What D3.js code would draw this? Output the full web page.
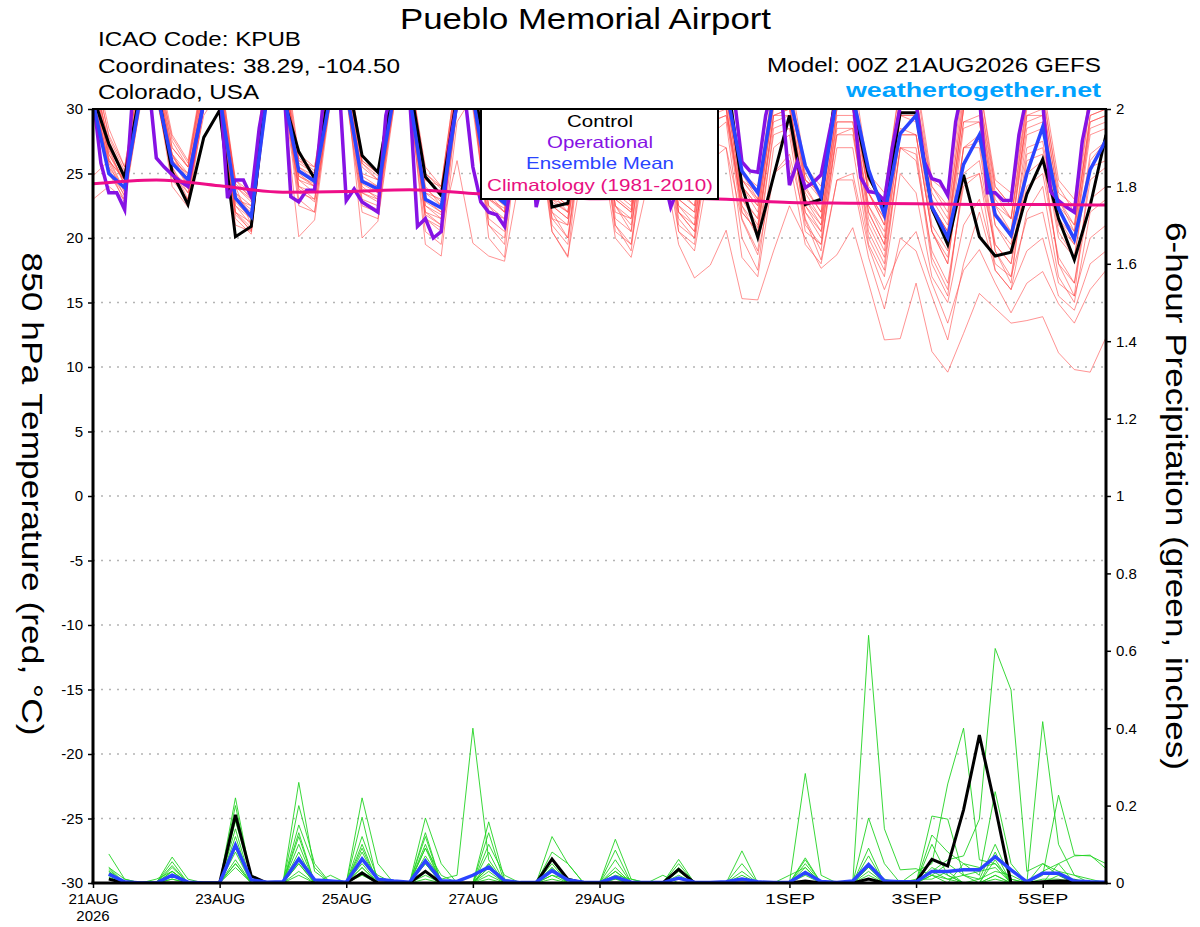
<!DOCTYPE html>
<html>
<head>
<meta charset="utf-8">
<script src="https://cdn.jsdelivr.net/npm/d3@7"></script>
<style>
  body { margin: 0; background: #fff; }
  text { font-family: "Liberation Sans", Arial, sans-serif; }
</style>
</head>
<body>
<div id="chart"></div>
<script>
// run start and time steps
var runStart = Date.UTC(2026, 7, 21, 0);
var HOUR = 3600 * 1000;

// bottom axis ticks
var dateTicks = ['2026-08-21', '2026-08-23', '2026-08-25', '2026-08-27', '2026-08-29',
                 '2026-09-01', '2026-09-03', '2026-09-05'];
var tempTicks = [-30, -25, -20, -15, -10, -5, 0, 5, 10, 15, 20, 25, 30];
var precipTicks = [0, 0.2, 0.4, 0.6, 0.8, 1, 1.2, 1.4, 1.6, 1.8, 2];

// 850 hPa temperature, 6-hourly (00Z 21AUG .. 00Z 6SEP)
var controlTemp = [
  31, 27.3, 24.7, 31.5,  32, 25.1, 22.6, 27.8,  29.9, 20.1, 20.9, 32,  31, 26.7, 24.6, 32,
  33, 26.4, 25.1, 32,  32, 24.75, 23.3, 31,  32, 25.5, 24.5, 31,  32, 22.4, 22.7, 30.5,
  32, 25, 24, 31,  32, 25.5, 24.5, 31,  33, 24.0, 20.05, 24.8,  29.5, 22.6, 23.0, 32,
  30.5, 24.8, 22.3, 29.7,  29.7, 22.3, 19.5, 24.9,  20.1, 18.6, 18.9, 23.4,  26.1, 21.5, 18.3, 22.5,
  28
];
var meanTemp = [
  30.5, 25.0, 23.9, 31,  31.5, 25.8, 24.5, 30.5,  31, 23.1, 21.65, 31,  31.5, 25.2, 24.4, 31,
  31.5, 24.4, 23.8, 31,  31, 23.0, 22.35, 30.5,  31, 23.7, 22.7, 30.5,  31, 24.0, 23.5, 30.5,
  31, 24.5, 23.8, 30.5,  31, 24.8, 24.0, 30.5,  31.5, 25.2, 23.5, 31,  31, 25.6, 23.2, 31,
  31, 25.3, 21.8, 28.1,  29.5, 22.4, 20.05, 25.7,  28.0, 21.8, 20.2, 25.0,  28.6, 22.3, 19.9, 25.3,
  27.6
];
// operational run, 3-hourly
var operTemp = [
  31, 25.8, 23.5, 23.5, 22.2, 31, 33, 32.3,
  26.2, 25.5, 24.9, 24.4, 24.0, 27.5, 30.5, 33,
  32, 23.1, 24.5, 24.5, 23.2, 28.5, 32, 33,
  33, 23.2, 22.8, 23.7, 23.7, 30, 32, 33,
  22.9, 23.8, 22.8, 22.4, 22.0, 29.5, 32, 33,
  31, 20.9, 21.5, 20.0, 20.5, 27, 30.5, 31,
  25.5, 22.8, 22.0, 21.8, 20.9, 25, 30, 31,
  22.4, 25, 26, 24.5, 24, 28, 31, 32,
  31, 24.5, 24, 23.8, 23.5, 28, 31, 32,
  25, 22.4, 24, 24.5, 24, 28, 31, 32,
  32, 31, 25.9, 25.2, 25.1, 29.5, 32, 31,
  24.1, 25.9, 23.9, 24.3, 24.9, 28, 31, 32,
  31, 24.7, 23.6, 23.5, 22.9, 27, 30.2, 32,
  30.5, 26, 24.6, 24.4, 23.3, 29, 32, 33,
  31, 23.5, 23.5, 22.9, 22.9, 28, 31, 32,
  30.5, 23.6, 22.9, 22.4, 22.0, 27.5, 30.5, 32,
  33
];
// climatology, daily at 00Z
var climTemp = [24.2, 24.5, 24.05, 23.55, 23.6, 23.75, 23.45, 23.2, 23.05, 23.1,
                23.0, 22.75, 22.7, 22.65, 22.6, 22.6, 22.55];

// ensemble members, 6-hourly
var member01 = [32,25.5,23.8,31, 33,25.0,24.2,30.5, 31,22.5,21.5,31.5, 32,24.0,23.5,31, 32,23.5,22.8,30, 31,21.5,20.8,26, 19.6,18.6,18.2,25, 29,20.5,18.6,26, 28,20.0,18.5,24, 26,19.5,16.9,17.9, 20.6,15.3,15.2,19.0, 22.5,20.0,17.65,18.7, 20.8,16.5,12.1,12.2, 16.5,11.2,9.6,12.6, 15.7,14.55,13.4,13.6, 13.9,11.1,9.8,9.6, 12.3];
var member02 = [33,26.5,24.5,32, 32,26.0,25.0,31, 30.5,23.5,22.5,32, 33,25.5,24.8,31.5, 32,24.5,23.5,30.5, 31,22.0,21.0,30, 30.5,22.5,21.0,29, 30,21.5,20.0,28, 29,21.0,19.5,27, 27.5,20.5,19.0,26, 27,21.4,18.7,25, 26.5,21.4,18.3,24.5, 25,19.3,16.0,19.0, 20.5,16.5,13.4,17.5, 19.1,16.5,14.2,16.5, 17.4,14.9,13.4,16, 17.5];
var member03 = [31.5,27.0,24.0,31, 32.5,26.5,24.0,31.5, 32,24.0,21.0,33, 33,26.0,25.0,32, 33,25.5,24.5,31, 32,24.0,22.5,31, 32,23.5,22.0,30, 31,22.5,21.5,30, 30.5,22.5,21.0,29, 29.5,22.0,20.5,27.5, 27.0,18.5,17.0,25, 26.0,19.5,18.0,24.5, 24.5,18.5,14.5,20, 19.0,15.5,12.1,18, 22,17.5,16.0,19, 20,15.5,14.4,18, 19];
var member04 = [33,26.0,24.5,31.5, 31,25.5,23.5,29.5, 31.5,21.5,20.3,31, 31,20.1,21.4,30.5, 32,20.0,21.3,30, 31,19.5,18.6,29, 31,20.0,18.5,30, 30.5,20.5,18.5,29.5, 31,21.0,19.0,29, 30,20.5,19.5,28, 29,20.0,17.5,27, 28,20.5,19.5,27, 27,19.5,17.0,25, 23.5,17.0,15.0,21, 23,18.0,17.0,21.5, 22,16.5,15.5,20, 21];
var member05 = [34,28.5,25.5,33, 34,28.0,26.0,33, 33,24.5,23.5,34, 35,26.5,25.5,33, 34,26.5,25.0,33, 33,25.5,24.0,33, 33,25.0,24.0,32, 33,24.5,23.5,32, 33,25.0,24.0,32, 33,25.0,24.0,32, 33,25.0,24.0,32, 33,25.5,24.0,32, 33,25.0,23.5,32, 32.5,24.5,23.5,32, 32,24.5,23.5,31.5, 32,24.5,23.0,31.5, 32];
var member06 = [30.5,25.5,22.7,30.5, 31.5,24.0,22.4,30, 30,22.0,20.5,32, 32,23.0,22.0,31, 31,22.5,22.0,31, 30.5,20.5,19.5,30, 30,21.0,19.5,30.5, 31,22.0,20.0,30, 30.5,22.5,20.5,30, 30.5,21.0,20.0,29, 29.5,22.5,20.0,28, 28.5,22.0,20.5,28, 28.0,21.0,18.5,27, 26.0,19.0,16.5,24, 25,19.5,18.0,24, 25,18.5,16.5,23, 24];
var member07 = [32.5,27.5,25.0,32, 33,27.0,25.5,32, 32,23.0,22.0,32.5, 34,25.0,24.0,32, 33,25.0,24.5,32, 32,23.5,23.0,31.5, 32,24.0,23.0,31.5, 32,23.0,22.5,31, 32,24.0,23.0,31, 31.5,24.0,23.0,31, 31.5,24.0,22.5,31, 31.5,24.5,23.0,31, 31,23.5,21.5,30.5, 30.5,23.0,21.0,30, 30.5,23.0,21.5,30, 30.5,23.0,20.5,29.5, 30];
var member08 = [31,26.0,23.5,30.8, 32,25.5,23.0,31, 31,22.5,21.0,31, 32.5,24.5,23.5,31.5, 32,23.0,22.5,31, 31.5,22.5,21.5,31, 31,22.0,21.5,30.5, 31,21.5,21.0,30.5, 31,22.0,21.5,30, 30.5,22.5,21.0,30, 30,23.0,21.0,29.5, 30,23.0,21.0,29, 29,22.0,19.5,28, 28,20.5,18.5,27, 28,21.0,19.5,27, 27.5,20.5,18.5,26.5, 27.5];
var member09 = [33.5,27.0,24.8,32.5, 31.5,26.5,24.5,30, 30.5,23.0,22.5,31, 31.5,24.0,23.0,30.5, 31.5,24.0,23.0,30.5, 30.5,23.0,22.0,30.5, 31,23.0,22.0,31, 31.5,23.5,22.0,31, 31.5,23.0,22.0,31, 31,23.0,22.0,30.5, 31,24.0,22.5,30, 30.5,23.5,21.5,30, 30,23.5,21.0,29.5, 29.5,22.5,20.5,29, 29.5,22.5,21.5,29, 29.5,22.5,21.0,29, 29.5];
var member10 = [32,26.8,24.2,31.2, 32.5,26.0,24.0,31, 31.5,23.5,21.8,32, 33,25.5,24.5,32, 32.5,24.5,24.0,31.5, 32,23.5,22.5,31.5, 32,24.0,23.0,31.5, 31.5,24.0,23.0,31, 31.5,24.5,23.5,31, 31.5,24.5,23.5,31, 31.5,25.0,23.0,31, 31.5,25.0,23.0,31, 31,24.5,22.5,31, 31,24.0,22.0,30.5, 31,24.0,22.5,30.5, 31,24.0,22.0,30.5, 31];
var member11 = [31.8,25.0,23.0,31.5, 33.5,27.5,25.5,32.5, 32.5,24.0,22.8,33, 33.5,25.8,25.0,32.5, 33,25.8,24.5,32, 32.5,24.5,23.5,32, 32.5,24.5,23.5,31.5, 32,23.5,22.5,31.5, 32.5,23.5,22.5,31, 31,22.0,21.0,30, 30.5,22.0,20.5,29, 29.5,21.0,19.5,28, 28.5,20.5,18.0,27, 27,18.5,16.0,24.5, 25,17.5,16.0,22, 24,17.0,15.0,22, 23];
var member12 = [23.0,24.0,23.0,31, 31,25.0,23.5,30.5, 31,21.0,20.5,31, 31.5,22.5,22.0,31, 31,22.0,21.5,30.5, 30.5,21.5,20.5,30, 30.5,21.0,20.0,30.5, 30.5,21.0,19.5,30, 30,20.5,19.5,29.5, 30,21.5,20.0,29, 29.5,21.5,19.0,28.5, 29,21.5,19.0,28.5, 28.5,20.0,17.5,27, 26.5,18.0,15.5,25, 26,19.0,17.0,25, 26,18.0,16.5,24.5, 25.5];
var member13 = [24.8,26.0,24.5,32, 33,26.5,25.0,32, 32,24.5,23.0,33, 32,24.5,24.0,31, 33.5,26.0,25.0,32.5, 33,25.0,24.0,32, 33,25.0,23.5,32, 32.5,24.5,23.0,32, 32.5,24.5,24.0,32, 32,25.0,24.0,31.5, 32,24.5,23.0,31.5, 32,24.5,23.5,31.5, 31.5,24.0,22.5,31, 31,23.5,21.5,31, 31,23.5,21.5,30.5, 30.5,23.0,21.0,30.5, 31];
var member14 = [32,26.2,23.6,31.6, 32,24.5,23.0,30.5, 31,22.0,20.8,31.5, 32,23.5,23.0,31, 32,23.5,23.0,31, 31.5,22.0,21.5,30.5, 31.5,22.5,21.5,31, 31.5,22.5,21.5,31, 31,23.0,22.0,30.5, 31,23.5,22.5,30.5, 31,23.0,21.5,30.5, 30.5,22.5,21.0,30, 30,22.0,19.5,29.5, 29,21.0,19.0,28.5, 29,21.0,19.0,28, 28.5,21.0,19.5,28, 28.5];
var member15 = [34,27.8,25.2,33, 33.5,27.0,25.5,33, 33.5,24.0,23.0,34, 34,26.0,25.5,33, 34,26.0,25.0,33, 33,24.5,24.0,33, 33,24.5,24.0,33, 33,24.5,23.5,33, 33,24.5,23.5,32.5, 32.5,24.5,23.5,32, 32.5,24.5,23.5,32, 32.5,24.5,23.5,32, 32,24.5,23.0,32, 32,24.0,22.5,31.5, 32,24.0,22.5,31.5, 31.5,23.5,22.5,31.5, 32];
var member16 = [31,25.8,23.2,30.6, 32,25.2,23.8,31, 31.5,22.0,21.2,32, 32.5,24.8,24.2,31, 32.5,23.8,23.2,31.5, 31.5,22.8,22.0,31, 31.5,23.0,22.3,31, 31.5,22.8,22.0,31, 31.5,22.5,21.5,30.5, 30.5,22.5,21.5,30, 30,22.5,20.8,29.5, 29.5,22.0,20.0,29, 29,21.5,19.0,28, 28,20.5,18.0,27, 27.5,19.5,18.0,26.5, 27,20.0,18.5,26, 27.5];
var member17 = [32.8,27.3,24.5,32, 32.8,26.3,24.8,31.8, 32,23.2,22.2,32.5, 33,25.2,24.6,32, 33,24.8,24.0,32, 32.5,23.8,22.8,32, 32.5,23.5,22.5,32, 32,23.5,22.5,31.5, 32,23.8,22.8,31.5, 31.8,23.8,22.5,31, 31.5,24.0,22.0,31, 31.5,23.8,22.0,31, 31,23.5,21.5,30.5, 30.5,22.5,20.5,30, 30.5,22.5,20.5,29.5, 30,22.0,20.5,29.5, 30];
var member18 = [30.8,25.2,23.3,30.2, 31,24.8,22.8,30.2, 30.5,21.8,20.6,30.5, 31.5,23.8,22.8,30.5, 31.5,22.8,22.2,30.5, 31,21.8,21.0,30.5, 30.5,21.5,20.5,30, 30.5,22.0,21.0,30, 30.5,21.5,20.5,30, 30,22.0,20.5,29.5, 30,22.0,20.5,29.5, 30,22.5,20.5,29.5, 29.5,22.5,20.0,28.5, 28,20.5,18.0,27, 27,19.0,16.5,26, 26.5,18.0,15.5,25.5, 26];
var member19 = [33.2,28.0,25.5,32.8, 33.2,27.8,25.8,32.5, 32.5,24.2,23.2,33.5, 34.5,26.2,25.2,33, 33.5,25.8,24.8,33, 33,25.0,23.8,32.5, 33,24.8,23.8,32.5, 32.5,24.0,23.0,32.5, 32.5,24.8,23.8,32, 32.5,24.5,23.2,32, 32,24.5,22.8,31.5, 31.5,24.0,22.0,31, 31,23.5,21.0,30.5, 30.5,22.5,20.5,30, 30,22.0,20.0,29.5, 29.5,21.5,19.5,29, 29.5];
var member20 = [31.5,26.5,24.2,31, 32,26.0,24.5,31.5, 31.5,22.8,21.5,32, 32.5,24.8,24.0,31.5, 32.5,24.2,23.5,31.5, 32,22.5,21.8,31.5, 32,23.2,22.0,31.5, 31.5,23.0,22.0,31, 31.5,23.2,22.2,31, 31,23.0,22.0,30.5, 31,23.2,21.5,30.5, 30.5,23.0,21.5,30, 30,22.5,20.5,29.5, 29.5,22.0,20.0,29, 29,22.0,20.5,28.5, 29,21.5,20.0,28.5, 29];
var memberTemps = [member01, member02, member03, member04, member05, member06, member07, member08, member09, member10,
                   member11, member12, member13, member14, member15, member16, member17, member18, member19, member20];

// 6-hour precipitation (inches), steps 06Z 21AUG .. 00Z 6SEP
var controlPrecip = [
  0.01,0,0,0,0,0,0,0,  0.176,0.018,0,0,0,0,0,0,  0.026,0,0,0,0.03,0,0,0,  0,0,0,0,0.062,0.01,0,0,
  0,0,0,0,0.035,0,0,0,  0,0,0,0,0.005,0,0,0,  0.01,0,0,0.003,0.061,0.044,0.189,0.382,  0.197,0,0,0.003,0.005,0.005,0,0
];
var meanPrecip = [
  0.023,0.003,0,0,0.02,0.002,0,0,  0.098,0.008,0.002,0.003,0.062,0.008,0.005,0.002,
  0.062,0.01,0.005,0.002,0.057,0.006,0.004,0.02,  0.041,0.006,0.001,0.002,0.032,0.008,0.002,0.001,
  0.015,0.002,0.001,0.001,0.013,0.002,0.001,0.003,  0.01,0.003,0.001,0.002,0.027,0.004,0.001,0.005,
  0.048,0.005,0.003,0.003,0.03,0.03,0.034,0.034,  0.068,0.034,0.003,0.025,0.025,0.005,0.003,0.002
];
var precip01 = [0.04,0,0,0,0.03,0,0,0, 0.22,0.01,0,0,0.05,0,0,0, 0.08,0,0,0,0.03,0,0,0, 0.04,0,0,0,0,0,0,0, 0,0,0,0,0.02,0,0,0, 0,0,0,0,0.06,0,0,0, 0.64,0.14,0.034,0.037,0.02,0,0,0, 0.08,0,0,0,0,0,0,0];
var precip02 = [0.075,0.01,0,0,0,0,0,0, 0.05,0,0,0,0.1,0,0,0, 0.04,0,0,0,0.07,0.01,0.02,0.40, 0.06,0,0,0,0.04,0,0,0, 0.03,0,0,0,0,0,0,0, 0.03,0,0,0,0,0,0,0, 0.05,0,0,0,0.03,0.06,0.07,0.165, 0.606,0.499,0.03,0.05,0.02,0,0,0];
var precip03 = [0.03,0,0,0,0.067,0.01,0,0, 0.16,0.02,0,0,0.26,0.03,0,0, 0.12,0.01,0,0,0.09,0,0,0, 0.1,0.02,0,0,0.06,0,0,0, 0.113,0.01,0,0,0.04,0,0,0, 0.02,0,0,0,0.283,0.02,0,0, 0.05,0.01,0,0.03,0.05,0.256,0.40,0.06, 0.05,0.01,0,0.05,0.03,0.02,0,0];
var precip04 = [0.02,0,0,0,0.055,0,0,0, 0.2,0.01,0,0,0.2,0.05,0,0, 0.22,0.05,0,0,0.168,0.05,0,0, 0.158,0.01,0,0,0.12,0.05,0,0, 0.085,0,0,0,0.061,0,0,0, 0.083,0,0,0,0.04,0,0,0, 0.09,0,0,0,0.124,0.08,0.05,0.02, 0.236,0.05,0,0.417,0.1,0.02,0.01,0];
var precip05 = [0.035,0,0,0,0.045,0,0,0, 0.14,0,0,0,0.15,0.04,0,0, 0.17,0,0,0,0.13,0,0,0, 0.13,0,0,0,0.08,0.05,0,0, 0.06,0,0,0,0.05,0,0,0, 0.05,0,0,0,0.065,0,0,0, 0.168,0.05,0,0,0.173,0.165,0.02,0.01, 0.1,0.01,0,0.02,0.227,0.072,0.07,0.05];
var precip06 = [0.015,0,0,0,0.04,0,0,0, 0.12,0,0,0,0.13,0,0,0, 0.1,0,0,0,0.12,0,0,0, 0.08,0,0,0,0.05,0,0,0, 0.04,0,0,0,0,0,0,0, 0,0,0,0,0.05,0,0,0, 0.07,0,0,0,0.1,0.02,0,0, 0.06,0,0,0.03,0.05,0.07,0.072,0.037];
var precip07 = [0.02,0,0,0,0.03,0,0,0, 0.1,0,0,0,0.12,0,0.02,0, 0.09,0,0,0,0.1,0,0,0, 0.05,0,0,0,0.03,0,0,0, 0.02,0.01,0,0,0.03,0,0,0, 0.01,0,0,0.02,0.04,0,0,0, 0.05,0,0,0,0.03,0.01,0.02,0.03, 0.04,0,0,0.01,0.01,0,0,0];
var precip08 = [0.01,0,0,0,0.02,0,0,0, 0.09,0,0,0,0.08,0,0,0, 0.06,0.02,0,0,0.05,0,0,0, 0.04,0,0,0,0.02,0.01,0,0, 0.01,0,0,0,0,0,0,0, 0,0,0,0,0.02,0,0,0, 0.03,0,0,0.01,0.01,0.03,0,0.01, 0.03,0.02,0,0,0,0,0,0];
var precip09 = [0.03,0,0,0.01,0.03,0,0,0, 0.08,0,0,0,0.06,0,0,0, 0.05,0,0,0,0.09,0.02,0,0, 0.05,0,0,0,0.04,0,0,0, 0.03,0,0,0,0,0,0,0, 0,0,0,0,0.03,0,0,0, 0.04,0,0,0,0,0,0.05,0.04, 0.05,0,0,0,0.05,0,0,0];
var precip10 = [0.025,0,0,0,0.02,0,0,0, 0.06,0,0,0,0.05,0,0,0, 0.04,0,0,0,0.05,0,0,0, 0.03,0,0,0,0.02,0,0,0, 0,0,0,0,0,0,0,0, 0,0,0,0,0,0,0,0, 0.02,0,0,0,0.02,0.01,0,0, 0.02,0,0,0,0,0,0,0];
var precip11 = [0.02,0,0,0,0.01,0,0,0, 0.05,0,0,0,0.03,0,0,0, 0.03,0,0,0,0.02,0,0,0, 0.02,0,0,0,0.01,0,0,0, 0,0,0,0.02,0,0,0,0, 0,0,0,0,0,0,0,0, 0.01,0,0,0,0.04,0.02,0,0, 0.01,0,0,0,0.02,0,0,0];
var precip12 = [0.04,0.01,0,0,0.01,0,0,0, 0.04,0,0,0,0.02,0,0,0, 0.02,0,0,0,0.01,0,0,0, 0.01,0,0,0,0,0,0,0, 0.01,0,0,0,0,0,0,0, 0,0,0,0,0,0,0,0, 0.01,0,0,0,0.02,0.05,0.02,0, 0.02,0,0,0,0,0.01,0,0];
var memberPrecips = [precip01, precip02, precip03, precip04, precip05, precip06,
                     precip07, precip08, precip09, precip10, precip11, precip12];

var legendItems = ['Control', 'Operational', 'Ensemble Mean', 'Climatology (1981-2010)'];

// ---- drawing ----
var W = 1200, H = 927;
var plotL = 93, plotR = 1106, plotT = 109, plotB = 883;

var svg = d3.select('#chart').append('svg')
    .attr('width', W)
    .attr('height', H);

svg.append('rect').attr('width', W).attr('height', H).attr('fill', '#fff');

var parseDay = d3.utcParse('%Y-%m-%d');
var x = d3.scaleUtc()
    .domain([new Date(runStart), new Date(runStart + 384 * HOUR)])
    .range([plotL, plotR]);
var yT = d3.scaleLinear().domain([-30, 30]).range([plotB, plotT]);
var yP = d3.scaleLinear().domain([0, 2]).range([plotB, plotT]);

svg.append('clipPath').attr('id', 'plot-clip')
  .append('rect')
    .attr('x', plotL).attr('y', plotT)
    .attr('width', plotR - plotL).attr('height', plotB - plotT);

// dotted grid on the temperature ticks
svg.append('g')
  .selectAll('line')
  .data(tempTicks.filter(function(t) { return t > -30 && t < 30; }))
  .enter().append('line')
    .attr('x1', plotL).attr('x2', plotR)
    .attr('y1', function(d) { return yT(d); })
    .attr('y2', function(d) { return yT(d); })
    .attr('stroke', '#b4b4b4')
    .attr('stroke-width', 1.5)
    .attr('stroke-dasharray', '2,6');

var plot = svg.append('g').attr('clip-path', 'url(#plot-clip)');

function lineOf(stepH, offset, yScale) {
  return d3.line()
    .x(function(d, i) { return x(new Date(runStart + (i + offset) * stepH * HOUR)); })
    .y(function(d) { return yScale(d); });
}
var temp6 = lineOf(6, 0, yT);
var temp3 = lineOf(3, 0, yT);
var tempDaily = lineOf(24, 0, yT).curve(d3.curveMonotoneX);
var precip6 = lineOf(6, 1, yP);

plot.selectAll('.member')
  .data(memberTemps)
  .enter().append('path')
    .attr('class', 'member')
    .attr('d', temp6)
    .attr('fill', 'none')
    .attr('stroke', '#ff4646')
    .attr('stroke-opacity', 0.78)
    .attr('stroke-width', 0.75);

plot.selectAll('.pmember')
  .data(memberPrecips)
  .enter().append('path')
    .attr('class', 'pmember')
    .attr('d', precip6)
    .attr('fill', 'none')
    .attr('stroke', '#22d422')
    .attr('stroke-width', 0.9);

plot.append('path').attr('d', temp6(controlTemp))
    .attr('fill', 'none').attr('stroke', '#000').attr('stroke-width', 3);
plot.append('path').attr('d', precip6(controlPrecip))
    .attr('fill', 'none').attr('stroke', '#000').attr('stroke-width', 3);
plot.append('path').attr('d', temp3(operTemp))
    .attr('fill', 'none').attr('stroke', '#8612e4').attr('stroke-width', 3.5);
plot.append('path').attr('d', temp6(meanTemp))
    .attr('fill', 'none').attr('stroke', '#2a44ff').attr('stroke-width', 3.5);
plot.append('path').attr('d', precip6(meanPrecip))
    .attr('fill', 'none').attr('stroke', '#2a44ff').attr('stroke-width', 3.5);
plot.append('path').attr('d', tempDaily(climTemp))
    .attr('fill', 'none').attr('stroke', '#ee0e88').attr('stroke-width', 3);

// legend box
var legend = svg.append('g');
legend.append('rect')
    .attr('x', 481).attr('y', plotT)
    .attr('width', 237).attr('height', 90)
    .attr('fill', '#fff').attr('stroke', '#000').attr('stroke-width', 2);
var legendColors = ['#000', '#8612e4', '#2a44ff', '#e8107f'];
var legendWidths = [66, 106, 148, 226];
legend.selectAll('text')
  .data(legendItems)
  .enter().append('text')
    .attr('x', 600)
    .attr('y', function(d, i) { return 127 + i * 21.2; })
    .attr('text-anchor', 'middle')
    .attr('font-size', 16.5)
    .attr('fill', function(d, i) { return legendColors[i]; })
    .attr('textLength', function(d, i) { return legendWidths[i]; })
    .attr('lengthAdjust', 'spacingAndGlyphs')
    .text(function(d) { return d; });

// axes
var fmtDay = d3.utcFormat('%-d%b');
var gx = svg.append('g')
    .attr('transform', 'translate(0,' + plotB + ')')
    .call(d3.axisBottom(x)
      .tickValues(dateTicks.map(parseDay))
      .tickFormat(function(d) { return fmtDay(d).toUpperCase(); })
      .tickSize(5).tickSizeOuter(0).tickPadding(5));
var gl = svg.append('g')
    .attr('transform', 'translate(' + plotL + ',0)')
    .call(d3.axisLeft(yT).tickValues(tempTicks)
      .tickFormat(function(d) { return String(d); })
      .tickSize(5).tickSizeOuter(0).tickPadding(5));
var gr = svg.append('g')
    .attr('transform', 'translate(' + plotR + ',0)')
    .call(d3.axisRight(yP).tickValues(precipTicks).tickFormat(d3.format('~g'))
      .tickSize(5).tickSizeOuter(0).tickPadding(5));

[gx, gl, gr].forEach(function(g) {
  g.select('.domain').remove();
  g.selectAll('.tick line').attr('stroke', '#000').attr('stroke-width', 1.5);
  g.selectAll('.tick text')
    .attr('fill', '#000')
    .attr('font-size', 15)
    .attr('font-family', '"Liberation Sans", Arial, sans-serif');
});
gx.selectAll('.tick text').attr('textLength', 50).attr('lengthAdjust', 'spacingAndGlyphs');

svg.append('text')
    .attr('x', x(parseDay(dateTicks[0])))
    .attr('y', 921)
    .attr('text-anchor', 'middle')
    .attr('font-size', 15)
    .text('2026');

// frame
var frame = svg.append('g').attr('stroke', '#000').attr('fill', 'none');
frame.append('line').attr('x1', plotL - 1).attr('x2', plotR + 1).attr('y1', plotT).attr('y2', plotT).attr('stroke-width', 2);
frame.append('line').attr('x1', plotL - 1.5).attr('x2', plotR + 1.5).attr('y1', plotB).attr('y2', plotB).attr('stroke-width', 3);
frame.append('line').attr('x1', plotL).attr('x2', plotL).attr('y1', plotT).attr('y2', plotB).attr('stroke-width', 3);
frame.append('line').attr('x1', plotR).attr('x2', plotR).attr('y1', plotT).attr('y2', plotB).attr('stroke-width', 3);

// titles and header
function addText(px, py, str, size, len, anchor, color, weight) {
  return svg.append('text')
    .attr('x', px).attr('y', py)
    .attr('font-size', size)
    .attr('text-anchor', anchor || 'start')
    .attr('fill', color || '#000')
    .attr('font-weight', weight || 'normal')
    .attr('textLength', len)
    .attr('lengthAdjust', 'spacingAndGlyphs')
    .text(str);
}
addText(585.5, 29, 'Pueblo Memorial Airport', 29, 371, 'middle');
addText(98, 46, 'ICAO Code: KPUB', 20, 203);
addText(98, 72.5, 'Coordinates: 38.29, -104.50', 20, 302);
addText(98, 99, 'Colorado, USA', 20, 161);
addText(1101, 72, 'Model: 00Z 21AUG2026 GEFS', 20, 334, 'end');
addText(1101, 97, 'weathertogether.net', 21, 255, 'end', '#00a2ff', 'bold');

svg.append('text')
    .attr('transform', 'translate(22,494) rotate(90)')
    .attr('text-anchor', 'middle')
    .attr('font-size', 30)
    .attr('textLength', 483)
    .attr('lengthAdjust', 'spacingAndGlyphs')
    .text('850 hPa Temperature (red, °C)');

svg.append('text')
    .attr('transform', 'translate(1166,496) rotate(90)')
    .attr('text-anchor', 'middle')
    .attr('font-size', 30)
    .attr('textLength', 548)
    .attr('lengthAdjust', 'spacingAndGlyphs')
    .text('6-hour Precipitation (green, inches)');
</script>
</body>
</html>
